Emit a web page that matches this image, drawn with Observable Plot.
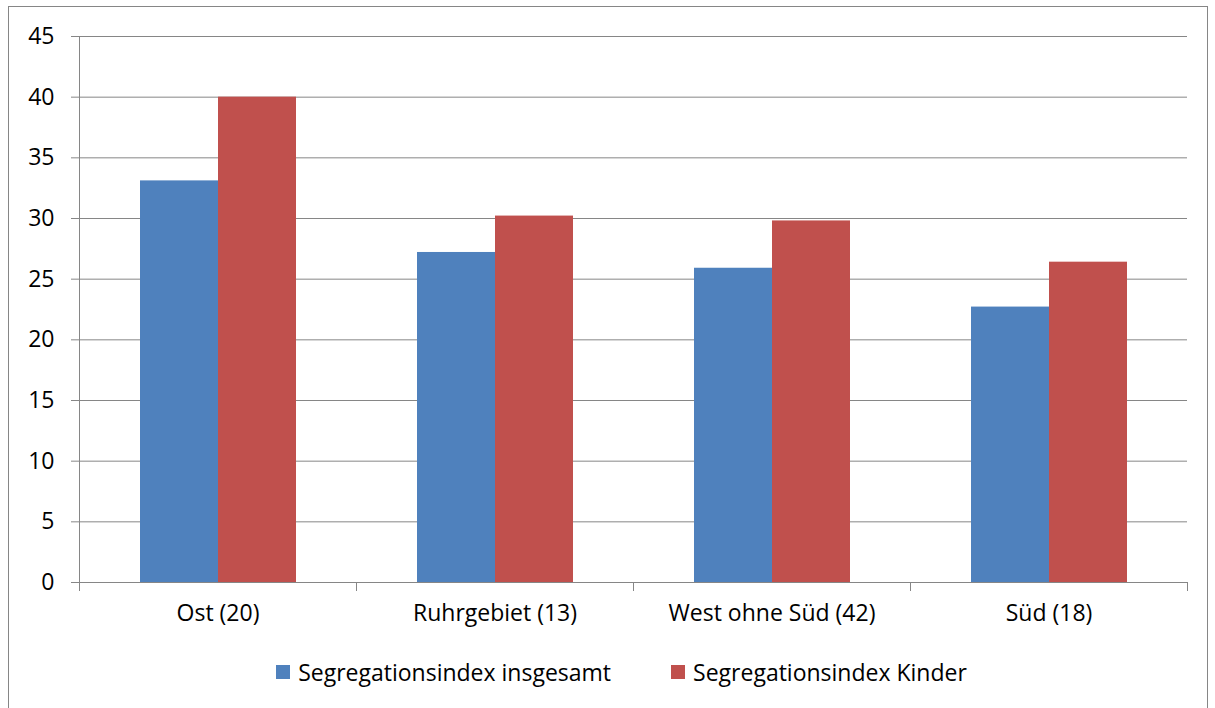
<!DOCTYPE html>
<html>
<head>
<meta charset="utf-8">
<script src="https://cdn.jsdelivr.net/npm/d3@7"></script>
<script src="https://cdn.jsdelivr.net/npm/@observablehq/plot@0.6"></script>
<style>
  html, body { margin: 0; padding: 0; background: #fff; }
  #wrap { position: relative; width: 1215px; height: 708px; overflow: hidden; font-family: "Open Sans", sans-serif; }
  #border { position: absolute; left: 8px; top: 6px; width: 1200px; height: 710px; border: 1px solid #868686; box-sizing: border-box; }
  #chart { position: absolute; left: 0; top: 0; }
  #legend { position: absolute; left: 14px; top: 655px; width: 1215px; text-align: center; font-size: 23px; line-height: 30px; color: #000; }
  #legend .item { display: inline-flex; align-items: center; margin: 0 30px; }
  #legend .sw { display: inline-block; width: 14px; height: 14px; margin-right: 8px; }
</style>
</head>
<body>
<div id="wrap">
  <div id="border"></div>
  <div id="chart"></div>
  <div id="legend"></div>
</div>
<script>
const categories = ["Ost (20)", "Ruhrgebiet (13)", "West ohne Süd (42)", "Süd (18)"];
const series = ["Segregationsindex insgesamt", "Segregationsindex Kinder"];
const insgesamt = [33.1, 27.2, 25.9, 22.7];
const kinder = [40.0, 30.2, 29.8, 26.4];
const yTicks = [0, 5, 10, 15, 20, 25, 30, 35, 40, 45];
const colors = ["#4F81BD", "#C0504D"];

const data = [];
categories.forEach((c, i) => {
  data.push({region: c, series: series[0], value: insgesamt[i]});
  data.push({region: c, series: series[1], value: kinder[i]});
});

const width = 1215, height = 640;
const mT = 36, mB = 58, mL = 77, mR = 27;
const plotH = height - mT - mB;
const gray = "#868686";

const chart = Plot.plot({
  width, height,
  marginTop: mT, marginBottom: mB, marginLeft: mL, marginRight: mR,
  style: {fontFamily: "Open Sans, sans-serif", fontSize: "23px", color: "#000", background: "transparent"},
  fx: {domain: categories, padding: 0, label: null, axis: "bottom", tickSize: 0, tickPadding: 22},
  x: {domain: series, paddingInner: 0, paddingOuter: 0.758, axis: null},
  y: {domain: [0, 45], axis: null},
  color: {domain: series, range: colors},
  marks: [
    Plot.ruleY(yTicks.slice(1), {stroke: gray, strokeWidth: 1}),
    Plot.barY(data, {fx: "region", x: "series", y: "value", fill: "series"}),
    Plot.ruleY([0], {stroke: gray, strokeWidth: 1}),
    Plot.frame({anchor: "left", facetAnchor: "left", stroke: gray, insetBottom: -8}),
    Plot.frame({anchor: "right", stroke: gray, insetTop: plotH, insetBottom: -8}),
    Plot.axisY({ticks: yTicks, tickSize: 8, tickPadding: 17, stroke: gray, fill: "#000", label: null, tickFormat: d => String(d)})
  ]
});
document.getElementById("chart").appendChild(chart);

const legend = document.getElementById("legend");
series.forEach((s, i) => {
  const item = document.createElement("span");
  item.className = "item";
  const sw = document.createElement("span");
  sw.className = "sw";
  sw.style.background = colors[i];
  item.appendChild(sw);
  item.appendChild(document.createTextNode(s));
  legend.appendChild(item);
});
</script>
</body>
</html>
